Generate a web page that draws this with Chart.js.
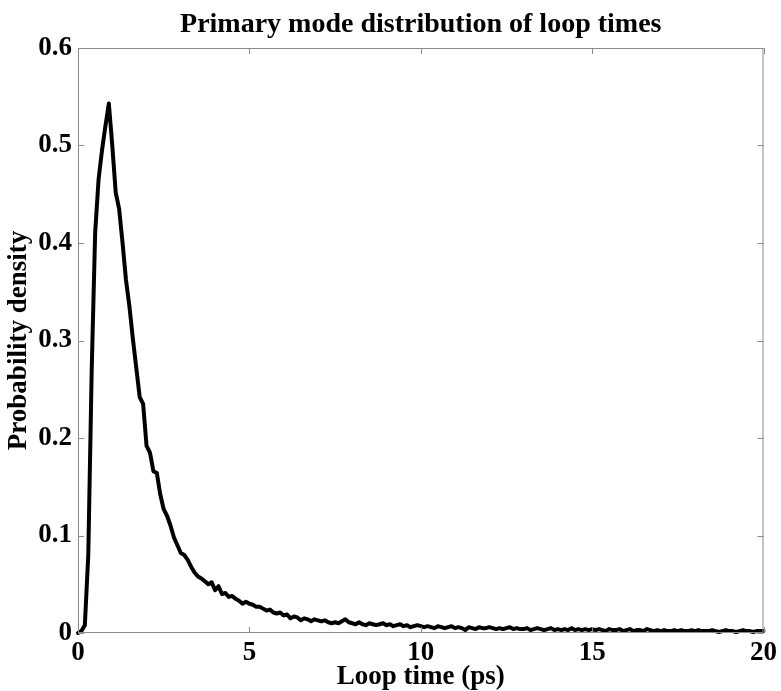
<!DOCTYPE html>
<html>
<head>
<meta charset="utf-8">
<script src="https://cdn.jsdelivr.net/npm/chart.js@4/dist/chart.umd.min.js"></script>
<style>
html,body{margin:0;padding:0;background:#fff;}
#wrap{width:781px;height:691px;position:relative;}
</style>
</head>
<body>
<div id="wrap"><canvas id="c" width="781" height="691"></canvas></div>
<script>
// Loop time bins (ps), step 0.1 from 0 to 20
const loopTimes = Array.from({length: 201}, (_, i) => +(i * 0.1).toFixed(1));
// Probability density values
const density = [
  // 0.0 - 0.9
  0.000, 0.002, 0.008, 0.080, 0.270, 0.410, 0.465, 0.495, 0.520, 0.543,
  // 1.0 - 1.9
  0.500, 0.452, 0.435, 0.400, 0.362, 0.335, 0.302, 0.272, 0.242, 0.235,
  // 2.0 - 2.9
  0.192, 0.185, 0.166, 0.164, 0.142, 0.127, 0.120, 0.110, 0.098, 0.090,
  // 3.0 - 3.9
  0.082, 0.080, 0.075, 0.068, 0.062, 0.058, 0.056, 0.053, 0.050, 0.052,
  // 4.0 - 4.9
  0.044, 0.048, 0.040, 0.041, 0.037, 0.038, 0.035, 0.033, 0.030, 0.032,
  // 5.0 - 5.9
  0.030, 0.029, 0.027, 0.027, 0.025, 0.023, 0.024, 0.021, 0.020, 0.021,
  // 6.0 - 6.9
  0.018, 0.019, 0.015, 0.017, 0.016, 0.013, 0.015, 0.014, 0.012, 0.014,
  // 7.0 - 7.9
  0.013, 0.012, 0.013, 0.011, 0.010, 0.011, 0.010, 0.012, 0.014, 0.011,
  // 8.0 - 8.9
  0.010, 0.009, 0.011, 0.009, 0.008, 0.010, 0.009, 0.008, 0.009, 0.010,
  // 9.0 - 9.9
  0.008, 0.009, 0.007, 0.008, 0.009, 0.007, 0.008, 0.006, 0.007, 0.008,
  // 10.0 - 10.9
  0.007, 0.006, 0.007, 0.006, 0.005, 0.007, 0.006, 0.005, 0.006, 0.007,
  // 11.0 - 11.9
  0.005, 0.006, 0.005, 0.003, 0.006, 0.005, 0.004, 0.006, 0.005, 0.005,
  // 12.0 - 12.9
  0.006, 0.005, 0.004, 0.005, 0.004, 0.005, 0.006, 0.004, 0.005, 0.004,
  // 13.0 - 13.9
  0.004, 0.005, 0.003, 0.004, 0.005, 0.004, 0.003, 0.004, 0.005, 0.003,
  // 14.0 - 14.9
  0.004, 0.003, 0.004, 0.003, 0.005, 0.003, 0.004, 0.003, 0.004, 0.003,
  // 15.0 - 15.9
  0.004, 0.003, 0.004, 0.003, 0.002, 0.004, 0.003, 0.003, 0.004, 0.002,
  // 16.0 - 16.9
  0.003, 0.004, 0.002, 0.003, 0.003, 0.002, 0.004, 0.003, 0.002, 0.003,
  // 17.0 - 17.9
  0.002, 0.003, 0.002, 0.002, 0.003, 0.002, 0.003, 0.002, 0.002, 0.003,
  // 18.0 - 18.9
  0.002, 0.003, 0.002, 0.002, 0.002, 0.003, 0.002, 0.001, 0.002, 0.003,
  // 19.0 - 19.9
  0.002, 0.002, 0.001, 0.002, 0.003, 0.002, 0.002, 0.001, 0.002, 0.002,
  // 20.0
  0.002
];
const xTicks = [0, 5, 10, 15, 20];
const yTicks = [0, 0.1, 0.2, 0.3, 0.4, 0.5, 0.6];
const titleText = 'Primary mode distribution of loop times';
const xLabel = 'Loop time (ps)';
const yLabel = 'Probability density';

const points = loopTimes.map((t, i) => ({x: t, y: density[i]}));
const FONT = '"Liberation Serif", "Times New Roman", serif';

const boxTicks = {
  id: 'boxTicks',
  afterDatasetsDraw(chart) {
    const {ctx, chartArea: a, scales: {x, y}} = chart;
    ctx.save();
    ctx.strokeStyle = '#8a8a8a';
    ctx.lineWidth = 1;
    ctx.beginPath();
    ctx.rect(a.left + 0.5, a.top + 0.5, a.right - a.left - 1, a.bottom - a.top - 1);
    const L = 6;
    xTicks.forEach(v => {
      const px = Math.round(x.getPixelForValue(v)) + 0.5;
      ctx.moveTo(px, a.bottom); ctx.lineTo(px, a.bottom - L);
      ctx.moveTo(px, a.top); ctx.lineTo(px, a.top + L);
    });
    yTicks.forEach(v => {
      const py = Math.round(y.getPixelForValue(v)) + 0.5;
      ctx.moveTo(a.left, py); ctx.lineTo(a.left + L, py);
      ctx.moveTo(a.right, py); ctx.lineTo(a.right - L, py);
    });
    ctx.stroke();
    ctx.restore();
  }
};

new Chart(document.getElementById('c'), {
  type: 'line',
  data: {
    datasets: [{
      data: points,
      borderColor: '#000',
      borderWidth: 4,
      borderJoinStyle: 'round',
      borderCapStyle: 'round',
      pointRadius: 0,
      tension: 0,
      fill: false,
      clip: 4
    }]
  },
  options: {
    responsive: false,
    animation: false,
    layout: {padding: {left: 0, right: 17, top: 0, bottom: 0}},
    plugins: {
      legend: {display: false},
      tooltip: {enabled: false},
      title: {
        display: true,
        text: titleText,
        fullSize: false,
        color: '#000',
        font: {family: FONT, size: 28, weight: 'bold', lineHeight: 1.2},
        padding: {top: 8, bottom: 6.4}
      }
    },
    scales: {
      x: {
        type: 'linear',
        min: 0, max: 20,
        afterBuildTicks: s => { s.ticks = xTicks.map(v => ({value: v})); },
        afterFit: s => { s.height = 58; },
        grid: {display: false, drawTicks: false},
        border: {display: false},
        ticks: {
          color: '#000', padding: 4, maxRotation: 0,
          font: {family: FONT, size: 27, weight: 'bold'},
          callback: v => String(v)
        },
        title: {
          display: true, text: xLabel, color: '#000',
          font: {family: FONT, size: 27, weight: 'bold', lineHeight: 1.0},
          padding: {top: 0, bottom: 0}
        }
      },
      y: {
        type: 'linear',
        min: 0, max: 0.6,
        afterBuildTicks: s => { s.ticks = yTicks.map(v => ({value: v})); },
        afterFit: s => { s.width = 78; },
        grid: {display: false, drawTicks: false},
        border: {display: false},
        ticks: {
          color: '#000', padding: 6,
          font: {family: FONT, size: 27, weight: 'bold'},
          callback: v => (v === 0 ? '0' : v.toFixed(1))
        },
        title: {
          display: true, text: yLabel, color: '#000',
          font: {family: FONT, size: 27, weight: 'bold', lineHeight: 1.0},
          padding: {top: 6, bottom: 0}
        }
      }
    }
  },
  plugins: [boxTicks]
});
</script>
</body>
</html>
